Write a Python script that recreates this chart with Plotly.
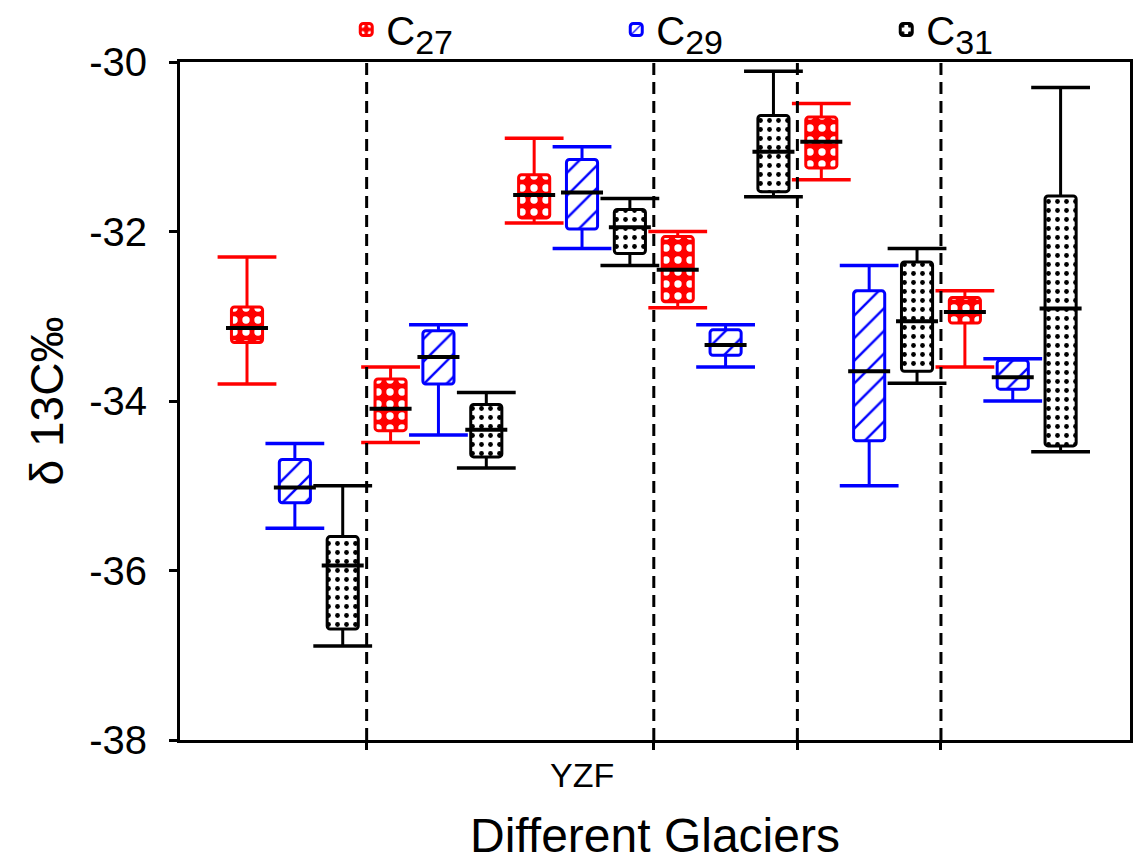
import plotly.graph_objects as go

# ---- data ----
series_names = [
    "C<sub><span style='font-size:34px'>27</span></sub>",
    "C<sub><span style='font-size:34px'>29</span></sub>",
    "C<sub><span style='font-size:34px'>31</span></sub>",
]
series_colors = ["#ff0000", "#0000ff", "#000000"]

# six sample sets (each has one box per series), left to right
c27_hi  = [-32.30, -33.60, -30.90, -32.00, -30.49, -32.70]
c27_q3  = [-32.89, -33.74, -31.33, -32.06, -30.65, -32.78]
c27_med = [-33.14, -34.09, -31.57, -32.45, -30.94, -32.95]
c27_q1  = [-33.31, -34.35, -31.84, -32.83, -31.25, -33.08]
c27_lo  = [-33.80, -34.49, -31.90, -32.90, -31.39, -33.60]

c29_hi  = [-34.50, -33.10, -31.00, -33.10, -32.40, -33.50]
c29_q3  = [-34.69, -33.17, -31.15, -33.16, -32.70, -33.52]
c29_med = [-35.02, -33.48, -31.54, -33.34, -33.65, -33.72]
c29_q1  = [-35.20, -33.80, -31.97, -33.46, -34.47, -33.86]
c29_lo  = [-35.50, -34.40, -32.20, -33.60, -35.00, -34.00]

c31_hi  = [-35.00, -33.90, -31.61, -30.11, -32.20, -30.30]
c31_q3  = [-35.60, -34.04, -31.74, -30.63, -32.36, -31.58]
c31_med = [-35.94, -34.34, -31.95, -31.06, -33.06, -32.91]
c31_q1  = [-36.69, -34.66, -32.26, -31.53, -33.65, -34.53]
c31_lo  = [-36.89, -34.79, -32.40, -31.59, -33.79, -34.60]

# glaciers: number of sample sets in each, and their labels
glacier_sets = [1, 2, 1, 1, 1]
glacier_labels = ["", "YZF", "", "", ""]

y_ticks = [-38, -36, -34, -32, -30]
y_tick_text = ["-38", "-36", "-34", "-32", "-30"]

# ---- figure ----
FONT = "Arial, Liberation Sans, sans-serif"
n_series = 3
series_data = [
    (c27_hi, c27_q3, c27_med, c27_q1, c27_lo),
    (c29_hi, c29_q3, c29_med, c29_q1, c29_lo),
    (c31_hi, c31_q3, c31_med, c31_q1, c31_lo),
]
patterns = [
    dict(shape=".", fgcolor="#ffffff", bgcolor="#ff0000", fgopacity=1,
         size=12, solidity=0.3),
    dict(shape="/", fgcolor="#0000ff", bgcolor="#ffffff", fgopacity=1,
         size=16, solidity=0.15),
    dict(shape=".", fgcolor="#000000", bgcolor="#ffffff", fgopacity=1,
         size=9, solidity=0.22),
]

fig = go.Figure()
box_w = 0.65
for k, (hi, q3, med, q1, lo) in enumerate(series_data):
    col = series_colors[k]
    pos = [n_series * i + k + 1 for i in range(len(med))]
    fig.add_trace(go.Bar(
        x=pos, y=[a - b for a, b in zip(q3, q1)], base=q1, width=box_w,
        name=series_names[k],
        marker=dict(color=patterns[k]["bgcolor"], line=dict(color=col, width=3),
                    pattern=patterns[k], cornerradius=3),
        hoverinfo="skip",
    ))
    wx, wy = [], []
    for p, h, a, b, l in zip(pos, hi, q3, q1, lo):
        wx += [p, p, None, p, p, None]
        wy += [a, h, None, b, l, None]
    fig.add_trace(go.Scatter(x=wx, y=wy, mode="lines",
                             line=dict(color=col, width=3),
                             showlegend=False, hoverinfo="skip"))
    fig.add_trace(go.Scatter(x=pos + pos, y=hi + lo, mode="markers",
                             marker=dict(symbol="line-ew", size=42,
                                         line=dict(color=col, width=3.5)),
                             showlegend=False, hoverinfo="skip"))
    fig.add_trace(go.Scatter(x=pos, y=med, mode="markers",
                             marker=dict(symbol="line-ew", size=30,
                                         line=dict(color="#000000", width=4)),
                             showlegend=False, hoverinfo="skip"))

# glacier separators
bounds = []
acc = 0
for s in glacier_sets[:-1]:
    acc += s
    bounds.append(acc * n_series + 0.5)
for b in bounds:
    fig.add_shape(type="line", xref="x", yref="paper", x0=b, x1=b, y0=0, y1=1,
                  line=dict(color="black", width=3, dash="12px,7px"))

# glacier label under middle box of its last sample set
acc = 0
for s, lab in zip(glacier_sets, glacier_labels):
    acc += s
    if lab:
        xpos = (acc - 1) * n_series + 2
        fig.add_annotation(x=xpos, y=0, xref="x", yref="paper", text=lab,
                           showarrow=False, yanchor="top", yshift=-14,
                           font=dict(family=FONT, size=34, color="black"))

total = sum(glacier_sets) * n_series
fig.update_layout(
    width=1136, height=867,
    margin=dict(l=180, r=6, t=62, b=127, autoexpand=False),
    paper_bgcolor="white", plot_bgcolor="white",
    barmode="overlay",
    font=dict(family=FONT, color="black"),
    legend=dict(orientation="h", x=0.175, xanchor="left", y=1.0, yanchor="bottom",
                font=dict(family=FONT, size=40), entrywidth=225,
                entrywidthmode="pixels", bgcolor="rgba(0,0,0,0)",
                itemwidth=30),
    xaxis=dict(range=[-0.4, total + 1.45], tickvals=bounds,
               showticklabels=False, ticks="outside", ticklen=7,
               tickwidth=2.5, tickcolor="black", showline=True, mirror=True,
               linewidth=3, linecolor="black", showgrid=False, zeroline=False,
               title=dict(text="Different Glaciers", standoff=70,
                          font=dict(family=FONT, size=48))),
    yaxis=dict(range=[-38, -30], tickvals=y_ticks, ticktext=y_tick_text,
               ticks="outside", ticklen=8, ticklabelstandoff=14,
               tickwidth=2.5, tickcolor="black", showline=True, mirror=True,
               linewidth=3, linecolor="black", showgrid=False, zeroline=False,
               tickfont=dict(family=FONT, size=40),
               title=dict(text="δ 13C‰", standoff=12,
                          font=dict(family=FONT, size=46))),
)

fig.write_html("out.html")
